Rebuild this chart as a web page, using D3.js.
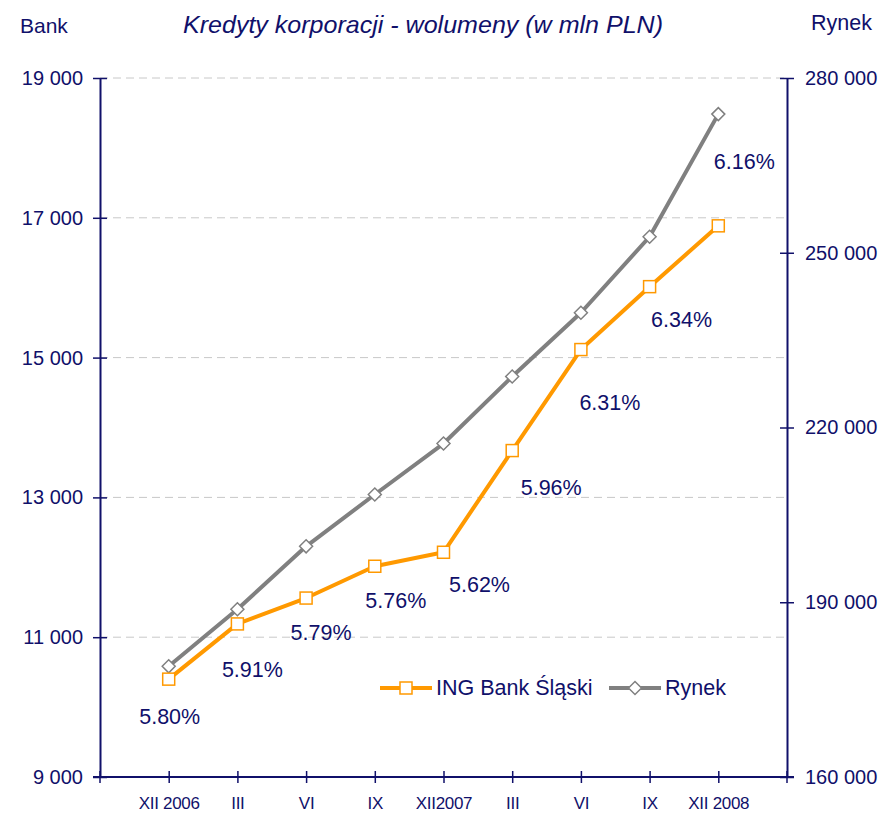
<!DOCTYPE html>
<html><head><meta charset="utf-8">
<script src="https://cdn.jsdelivr.net/npm/d3@7"></script>
<style>
body{margin:0;background:#fff;}
svg{display:block;}
text{font-family:"Liberation Sans",Arial,sans-serif;fill:#10106a;}
</style></head>
<body>
<svg id="chart" width="884" height="813"></svg>
<script>
const categories = ["XII 2006","III","VI","IX","XII2007","III ","VI ","IX ","XII 2008"];
const bankValues = [10400, 11190, 11560, 12015, 12215, 13670, 15115, 16015, 16885];
const marketValues = [179000, 188800, 199600, 208500, 217250, 228750, 239700, 252750, 273800];
const shareLabels = ["5.80%","5.91%","5.79%","5.76%","5.62%","5.96%","6.31%","6.34%","6.16%"];
const leftTicks = [9000, 11000, 13000, 15000, 17000, 19000];
const rightTicks = [160000, 190000, 220000, 250000, 280000];
const labelOffsets = [[1,38],[15,46],[15,35],[21,35],[36,33],[39,37],[29,53],[32,33],[26,-64]];

const svg = d3.select("#chart");
const L = 100, R = 787, T = 78, B = 777;
const navy = "#10106a";
const fmt = v => d3.format(",")(v).replace(/,/g, " ");

const x = d3.scalePoint().domain(categories).range([L, R]).padding(1);
const yL = d3.scaleLinear().domain([9000, 19000]).range([B, T]);
const yR = d3.scaleLinear().domain([160000, 280000]).range([B, T]);

// gridlines
svg.append("g").selectAll("line").data(leftTicks.filter(d => d > 9000)).join("line")
  .attr("x1", L).attr("x2", R).attr("y1", d => yL(d)).attr("y2", d => yL(d))
  .attr("stroke", "#c8c8c8").attr("stroke-width", 1).attr("stroke-dasharray", "8,5");

// left axis
const gL = svg.append("g").attr("transform", `translate(${L},0)`)
  .call(d3.axisLeft(yL).tickValues(leftTicks).tickFormat(fmt).tickSizeInner(7).tickSizeOuter(0).tickPadding(10));
gL.selectAll(".tick line").attr("x1", 7).attr("x2", -7);
// right axis
const gR = svg.append("g").attr("transform", `translate(${R},0)`)
  .call(d3.axisRight(yR).tickValues(rightTicks).tickFormat(fmt).tickSizeInner(7).tickSizeOuter(0).tickPadding(11));
gR.selectAll(".tick line").attr("x1", -7).attr("x2", 7);
// bottom axis
const gB = svg.append("g").attr("transform", `translate(0,${B})`)
  .call(d3.axisBottom(x).tickSizeInner(6).tickSizeOuter(0).tickPadding(14));
gB.selectAll(".tick line").attr("y1", -6).attr("y2", 6);
gB.select(".domain").attr("d", `M${L - 7},0H${R + 7}`);
[L, R].forEach(px => gB.append("line").attr("x1", px).attr("x2", px).attr("y1", -6).attr("y2", 6));
gB.selectAll("line").attr("stroke", navy);

[gL, gR, gB].forEach(g => {
  g.select(".domain").attr("stroke", navy).attr("stroke-width", 2);
  g.selectAll(".tick line").attr("stroke", navy).attr("stroke-width", 1.5);
  g.selectAll("text").style("font-family", '"Liberation Sans",Arial,sans-serif').attr("fill", navy);
});
gL.selectAll("text").style("font-size", "20px");
gR.selectAll("text").style("font-size", "20px");
gB.selectAll("text").style("font-size", "17px").style("letter-spacing", "-0.3px");
gB.selectAll("line").attr("stroke-width", 1.5);

// lines
const bankData = categories.map((c, i) => ({c, v: bankValues[i], lab: shareLabels[i], off: labelOffsets[i]}));
const mktData = categories.map((c, i) => ({c, v: marketValues[i]}));

svg.append("path").datum(mktData)
  .attr("d", d3.line().x(d => x(d.c)).y(d => yR(d.v)))
  .attr("fill", "none").attr("stroke", "#808080").attr("stroke-width", 4).attr("stroke-linejoin", "round");
svg.append("path").datum(bankData)
  .attr("d", d3.line().x(d => x(d.c)).y(d => yL(d.v)))
  .attr("fill", "none").attr("stroke", "#ff9900").attr("stroke-width", 4).attr("stroke-linejoin", "round");

const diamond = s => `M0,${-s}L${s},0L0,${s}L${-s},0Z`;
svg.append("g").selectAll("path").data(mktData).join("path")
  .attr("transform", d => `translate(${x(d.c)},${yR(d.v)})`)
  .attr("d", diamond(6.5)).attr("fill", "#fff").attr("stroke", "#808080").attr("stroke-width", 1.5);
svg.append("g").selectAll("rect").data(bankData).join("rect")
  .attr("x", d => x(d.c) - 6).attr("y", d => yL(d.v) - 6).attr("width", 12).attr("height", 12)
  .attr("fill", "#fff").attr("stroke", "#ff9900").attr("stroke-width", 1.5);

// share labels
svg.append("g").selectAll("text").data(bankData).join("text")
  .attr("x", d => x(d.c) + d.off[0]).attr("y", d => yL(d.v) + d.off[1])
  .attr("text-anchor", "middle").attr("dominant-baseline", "central")
  .style("font-size", "21.5px").text(d => d.lab);

// titles
svg.append("text").attr("x", 423).attr("y", 24).attr("text-anchor", "middle").attr("dominant-baseline", "central")
  .attr("textLength", 480).attr("lengthAdjust", "spacingAndGlyphs")
  .style("font-size", "24px").style("font-style", "italic").text("Kredyty korporacji - wolumeny (w mln PLN)");
svg.append("text").attr("x", 20).attr("y", 25).attr("dominant-baseline", "central").style("font-size", "21px").text("Bank");
svg.append("text").attr("x", 872).attr("y", 23).attr("text-anchor", "end").attr("dominant-baseline", "central").style("font-size", "21.5px").text("Rynek");

// legend
const lg = svg.append("g");
const legendItems = [
  {name: "ING Bank Śląski", color: "#ff9900", x0: 380, shape: "sq"},
  {name: "Rynek", color: "#808080", x0: 609, shape: "di"}
];
const ly = 688;
legendItems.forEach(it => {
  lg.append("line").attr("x1", it.x0).attr("x2", it.x0 + 52).attr("y1", ly).attr("y2", ly)
    .attr("stroke", it.color).attr("stroke-width", 4);
  if (it.shape === "sq") {
    lg.append("rect").attr("x", it.x0 + 26 - 6).attr("y", ly - 6).attr("width", 12).attr("height", 12)
      .attr("fill", "#fff").attr("stroke", it.color).attr("stroke-width", 1.5);
  } else {
    lg.append("path").attr("transform", `translate(${it.x0 + 26},${ly})`).attr("d", diamond(6.5))
      .attr("fill", "#fff").attr("stroke", it.color).attr("stroke-width", 1.5);
  }
  lg.append("text").attr("x", it.x0 + 56).attr("y", ly).attr("dominant-baseline", "central")
    .style("font-size", "21.5px").text(it.name);
});
</script>
</body></html>
